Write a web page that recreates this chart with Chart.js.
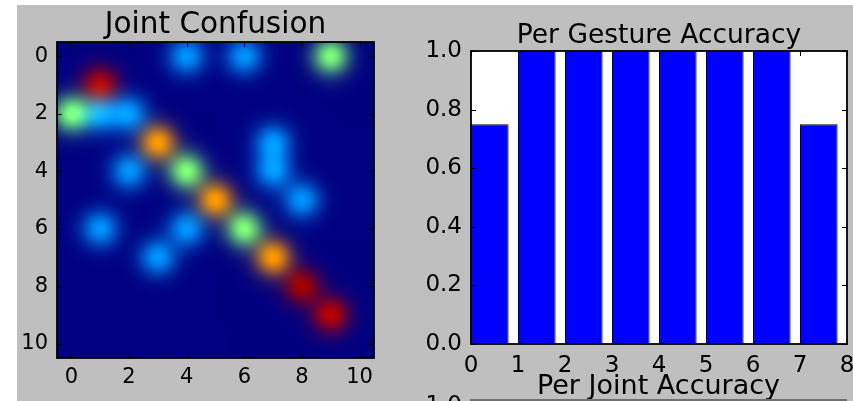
<!DOCTYPE html>
<html>
<head>
<meta charset="utf-8">
<script src="https://cdn.jsdelivr.net/npm/chart.js@4.4.0/dist/chart.umd.min.js"></script>
<style>
  html, body { margin: 0; padding: 0; background: #ffffff; }
  #stage { position: relative; width: 853px; height: 401px; overflow: hidden; background: #ffffff; }
  #grey { position: absolute; left: 17px; top: 5px; right: 0; bottom: 0; background: #bfbfbf; }
  #heatCanvas { position: absolute; left: 0; top: 0; }
  #barCanvas { position: absolute; left: 400px; top: 0; }
  .txt { position: absolute; font-family: "DejaVu Sans", sans-serif; color: #000; white-space: nowrap; }
  #nextTitle { left: 470px; width: 377px; top: 372px; text-align: center; font-size: 27px; line-height: 26px; }
  #nextTick { left: 400px; width: 62px; top: 393px; text-align: right; font-size: 23px; line-height: 22px; }
  #nextFrame { position: absolute; left: 470px; width: 377px; top: 399px; height: 2px; background: #6f6f6f; }
</style>
</head>
<body>
<div id="stage">
  <div id="grey"></div>
  <canvas id="heatCanvas" width="400" height="401"></canvas>
  <canvas id="barCanvas" width="470" height="401"></canvas>
  <div id="nextTitle" class="txt">Per Joint Accuracy</div>
  <div id="nextTick" class="txt">1.0</div>
  <div id="nextFrame"></div>
</div>
<script>
// ---------------- data ----------------
const heatTitle = 'Joint Confusion';
const heatTicks = [0, 2, 4, 6, 8, 10];
// confusion values, row = true joint (y), column = predicted joint (x)
const heatRow0  = [0, 0,    0,    0,    0.27, 0,    0.27, 0,    0,    0.5,  0];
const heatRow1  = [0, 0.95, 0,    0,    0,    0,    0,    0,    0,    0,    0];
const heatRow2  = [0.5, 0.27, 0.27, 0,  0,    0,    0,    0,    0,    0,    0];
const heatRow3  = [0, 0,    0,    0.75, 0,    0,    0,    0.27, 0,    0,    0];
const heatRow4  = [0, 0,    0.27, 0,    0.5,  0,    0,    0.27, 0,    0,    0];
const heatRow5  = [0, 0,    0,    0,    0,    0.75, 0,    0,    0.27, 0,    0];
const heatRow6  = [0, 0.27, 0,    0,    0.27, 0,    0.5,  0,    0,    0,    0];
const heatRow7  = [0, 0,    0,    0.27, 0,    0,    0,    0.75, 0,    0,    0];
const heatRow8  = [0, 0,    0,    0,    0,    0,    0,    0,    0.97, 0,    0];
const heatRow9  = [0, 0,    0,    0,    0,    0,    0,    0,    0,    0.95, 0];
const heatRow10 = [0, 0,    0,    0,    0,    0,    0,    0,    0,    0,    0];
const heatRows = [heatRow0, heatRow1, heatRow2, heatRow3, heatRow4, heatRow5,
                  heatRow6, heatRow7, heatRow8, heatRow9, heatRow10];

const barTitle = 'Per Gesture Accuracy';
const gestures = [0, 1, 2, 3, 4, 5, 6, 7];
const gestureAccuracy = [0.75, 1.0, 1.0, 1.0, 1.0, 1.0, 1.0, 0.75];
const barXTicks = [0, 1, 2, 3, 4, 5, 6, 7, 8];
const barYTicks = [0.0, 0.2, 0.4, 0.6, 0.8, 1.0];
const barWidthUnits = 0.8;

// ---------------- helpers ----------------
Chart.defaults.font.family = '"DejaVu Sans", sans-serif';
Chart.defaults.color = '#000';

// matplotlib "jet" segment data
const jetSeg = {
  r: [[0, 0], [0.35, 0], [0.66, 1], [0.89, 1], [1, 0.5]],
  g: [[0, 0], [0.125, 0], [0.375, 1], [0.64, 1], [0.91, 0], [1, 0]],
  b: [[0, 0.5], [0.11, 1], [0.34, 1], [0.65, 0], [1, 0]]
};
function segInterp(seg, v) {
  v = Math.min(1, Math.max(0, v));
  for (let i = 1; i < seg.length; i++) {
    if (v <= seg[i][0]) {
      const [x0, y0] = seg[i - 1], [x1, y1] = seg[i];
      return y0 + (y1 - y0) * (v - x0) / (x1 - x0);
    }
  }
  return seg[seg.length - 1][1];
}
function jet(v) {
  return [segInterp(jetSeg.r, v) * 255, segInterp(jetSeg.g, v) * 255, segInterp(jetSeg.b, v) * 255];
}
const SIGMA = 0.45;
function glowW(d2) { return Math.exp(-d2 / (2 * SIGMA * SIGMA)); }

// title drawn centred over the plot area
function titlePlugin(text, size, baseline) {
  return {
    id: 'areaTitle',
    afterDraw(chart) {
      const { ctx, chartArea: a } = chart;
      ctx.save();
      ctx.font = size + 'px "DejaVu Sans", sans-serif';
      ctx.fillStyle = '#000';
      ctx.textAlign = 'center';
      ctx.textBaseline = 'alphabetic';
      ctx.fillText(text, (a.left + a.right) / 2, baseline);
      ctx.restore();
    }
  };
}

// ticks pointing inward on all four sides + black frame
const frameTicksPlugin = {
  id: 'frameTicks',
  afterDatasetsDraw(chart) {
    const { ctx, chartArea: a, scales } = chart;
    const L = 5;
    ctx.save();
    ctx.strokeStyle = '#000';
    ctx.lineWidth = 1;
    ctx.beginPath();
    scales.x.ticks.forEach(t => {
      const px = Math.round(scales.x.getPixelForValue(t.value)) + 0.5;
      ctx.moveTo(px, a.bottom); ctx.lineTo(px, a.bottom - L);
      ctx.moveTo(px, a.top); ctx.lineTo(px, a.top + L);
    });
    scales.y.ticks.forEach(t => {
      const py = Math.round(scales.y.getPixelForValue(t.value)) + 0.5;
      ctx.moveTo(a.left, py); ctx.lineTo(a.left + L, py);
      ctx.moveTo(a.right, py); ctx.lineTo(a.right - L, py);
    });
    ctx.stroke();
    ctx.lineWidth = 1.8;
    ctx.strokeRect(a.left, a.top, a.right - a.left, a.bottom - a.top);
    ctx.restore();
  }
};

// smoothed (glowing) image of the confusion matrix, drawn through the chart scales
const heatImagePlugin = {
  id: 'heatImage',
  beforeDatasetsDraw(chart) {
    const { ctx, chartArea: a, scales } = chart;
    const n = heatRows.length;
    const bg = jet(0);
    const w = Math.round(a.right - a.left), h = Math.round(a.bottom - a.top);
    const off = document.createElement('canvas');
    off.width = w; off.height = h;
    const octx = off.getContext('2d');
    const img = octx.createImageData(w, h);
    const xs = [], ys = [];
    for (let px = 0; px < w; px++) xs.push(scales.x.getValueForPixel(a.left + px + 0.5));
    for (let py = 0; py < h; py++) ys.push(scales.y.getValueForPixel(a.top + py + 0.5));
    const delta = heatRows.map(row => row.map(v => { const c = jet(v); return [c[0] - bg[0], c[1] - bg[1], c[2] - bg[2]]; }));
    for (let py = 0; py < h; py++) {
      const rv = ys[py];
      const r0 = Math.round(rv);
      for (let px = 0; px < w; px++) {
        const cv = xs[px];
        const c0 = Math.round(cv);
        let R = bg[0], G = bg[1], B = bg[2];
        for (let r = Math.max(0, r0 - 2); r <= Math.min(n - 1, r0 + 2); r++) {
          for (let c = Math.max(0, c0 - 2); c <= Math.min(n - 1, c0 + 2); c++) {
            if (heatRows[r][c] === 0) continue;
            const ww = glowW((rv - r) * (rv - r) + (cv - c) * (cv - c));
            const d = delta[r][c];
            R += d[0] * ww; G += d[1] * ww; B += d[2] * ww;
          }
        }
        const idx = (py * w + px) * 4;
        img.data[idx] = Math.max(0, Math.min(255, R));
        img.data[idx + 1] = Math.max(0, Math.min(255, G));
        img.data[idx + 2] = Math.max(0, Math.min(255, B));
        img.data[idx + 3] = 255;
      }
    }
    octx.putImageData(img, 0, 0);
    ctx.drawImage(off, a.left, a.top);
  }
};

const plotBgPlugin = {
  id: 'plotBg',
  beforeDatasetsDraw(chart) {
    const { ctx, chartArea: a } = chart;
    ctx.save();
    ctx.fillStyle = '#ffffff';
    ctx.fillRect(a.left, a.top, a.right - a.left, a.bottom - a.top);
    ctx.restore();
  }
};

// ---------------- heatmap chart ----------------
new Chart(document.getElementById('heatCanvas'), {
  type: 'scatter',
  data: { datasets: [{ data: [], pointRadius: 0 }] },
  options: {
    responsive: false,
    animation: false,
    layout: { padding: { left: 0, right: 26, top: 42, bottom: 0 } },
    plugins: { legend: { display: false }, tooltip: { enabled: false }, title: { display: false } },
    scales: {
      x: {
        type: 'linear', min: -0.5, max: 10.5,
        afterBuildTicks: s => { s.ticks = heatTicks.map(v => ({ value: v })); },
        afterFit: s => { s.height = 43; },
        grid: { display: false, drawTicks: false },
        border: { display: false },
        ticks: { font: { size: 21 }, color: '#000', padding: 7, maxRotation: 0, autoSkip: false }
      },
      y: {
        type: 'linear', min: -0.5, max: 10.5, reverse: true,
        afterBuildTicks: s => { s.ticks = heatTicks.map(v => ({ value: v })); },
        afterFit: s => { s.width = 57; },
        grid: { display: false, drawTicks: false },
        border: { display: false },
        ticks: { font: { size: 21 }, color: '#000', padding: 9, autoSkip: false }
      }
    }
  },
  plugins: [heatImagePlugin, frameTicksPlugin, titlePlugin(heatTitle, 29.5, 33)]
});

// ---------------- bar chart ----------------
new Chart(document.getElementById('barCanvas'), {
  type: 'bar',
  data: {
    datasets: [{
      data: gestures.map((g, i) => ({ x: g + barWidthUnits / 2, y: gestureAccuracy[i] })),
      backgroundColor: '#0000ff',
      borderColor: '#000000',
      borderWidth: 1,
      barPercentage: barWidthUnits,
      categoryPercentage: 1.0
    }]
  },
  options: {
    responsive: false,
    animation: false,
    layout: { padding: { left: 0, right: 23, top: 51, bottom: 0 } },
    plugins: { legend: { display: false }, tooltip: { enabled: false }, title: { display: false } },
    scales: {
      x: {
        type: 'linear', min: 0, max: 8, offset: false,
        afterBuildTicks: s => { s.ticks = barXTicks.map(v => ({ value: v })); },
        afterFit: s => { s.height = 57; },
        grid: { display: false, drawTicks: false, offset: false },
        border: { display: false },
        ticks: { font: { size: 23 }, color: '#000', padding: 8, maxRotation: 0, autoSkip: false }
      },
      y: {
        type: 'linear', min: 0, max: 1,
        afterBuildTicks: s => { s.ticks = barYTicks.map(v => ({ value: v })); },
        afterFit: s => { s.width = 71; },
        grid: { display: false, drawTicks: false },
        border: { display: false },
        ticks: { font: { size: 23 }, color: '#000', padding: 9, autoSkip: false,
                 callback: v => Number(v).toFixed(1) }
      }
    }
  },
  plugins: [plotBgPlugin, frameTicksPlugin, titlePlugin(barTitle, 26.5, 43)]
});
</script>
</body>
</html>
